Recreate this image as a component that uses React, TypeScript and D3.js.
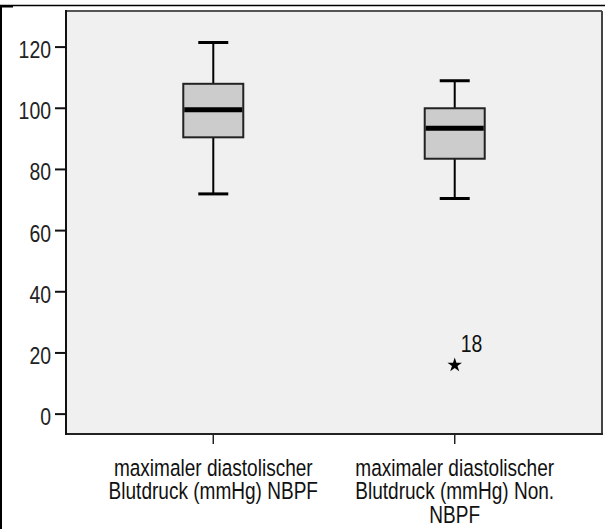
import React from "react";
import * as d3 from "d3";

// box plot values (mmHg)
const categories = ["NBPF", "Non. NBPF"];
const labelLines = [
  ["maximaler diastolischer", "Blutdruck (mmHg) NBPF"],
  ["maximaler diastolischer", "Blutdruck (mmHg) Non.", "NBPF"],
];
const whiskerLow = [72, 70.5];
const q1 = [90.5, 83.5];
const medians = [99.5, 93.5];
const q3 = [108, 100];
const whiskerHigh = [121.5, 109];
const outlierCats = ["Non. NBPF"];
const outlierValues = [16];
const outlierLabels = ["18"];
const yTicks = [0, 20, 40, 60, 80, 100, 120];

const W = 605,
  H = 529;
const left = 66,
  right = 602,
  top = 11,
  bottom = 434;
const FONT = "'Liberation Sans', Arial, sans-serif";
const SX = 0.81; // SPSS text is horizontally condensed

export default function App() {
  const x = d3.scalePoint<string>().domain(categories).range([left, right]).padding(0.61);
  const y = d3.scaleLinear().domain([-6.5, 131.8]).range([bottom, top]);
  const boxW = 60;
  const capW = 30;
  const star = d3.symbol().type(d3.symbolStar).size(65)() as string;

  return (
    <svg
      width={W}
      height={H}
      style={{ position: "absolute", left: 0, top: 0, background: "#fff" }}
      fontFamily={FONT}
    >
      {/* outer frame */}
      <line x1={0} x2={W} y1={5.5} y2={5.5} stroke="#000" strokeWidth={1.5} />
      <rect x={0} y={5} width={13} height={2.5} fill="#000" />
      <line x1={1} x2={1} y1={5} y2={H} stroke="#000" strokeWidth={2} />

      {/* plot area */}
      <rect x={left} y={top} width={right - left} height={bottom - top} fill="#f0f0f0" />
      <line x1={left} x2={right} y1={top} y2={top} stroke="#555" strokeWidth={2} />
      <line x1={right} x2={right} y1={top} y2={bottom} stroke="#444" strokeWidth={2} />
      <line x1={left} x2={right + 1} y1={bottom} y2={bottom} stroke="#222" strokeWidth={2} />
      <line x1={left} x2={left} y1={top - 1} y2={bottom + 1} stroke="#111" strokeWidth={2} />

      {/* y axis */}
      {yTicks.map((t) => (
        <g key={t}>
          <line x1={left - 11} x2={left} y1={y(t)} y2={y(t)} stroke="#111" strokeWidth={2} />
          <text
            transform={`translate(${left - 15},${y(t) + 11}) scale(${SX},1)`}
            textAnchor="end"
            fontSize={24}
            fill="#222"
          >
            {t}
          </text>
        </g>
      ))}

      {/* x axis */}
      {categories.map((c, i) => (
        <g key={c}>
          <line x1={x(c)} x2={x(c)} y1={bottom} y2={bottom + 10} stroke="#222" strokeWidth={1.5} />
          <text
            transform={`translate(${x(c)},0) scale(${SX},1)`}
            textAnchor="middle"
            fontSize={23.5}
            fill="#111"
          >
            {labelLines[i].map((ln, j) => (
              <tspan key={j} x={0} y={476 + j * 23.5}>
                {ln}
              </tspan>
            ))}
          </text>
        </g>
      ))}

      {/* boxes */}
      {categories.map((c, i) => {
        const cx = x(c) as number;
        return (
          <g key={c}>
            <line x1={cx} x2={cx} y1={y(whiskerHigh[i])} y2={y(q3[i])} stroke="#000" strokeWidth={2} />
            <line x1={cx} x2={cx} y1={y(q1[i])} y2={y(whiskerLow[i])} stroke="#000" strokeWidth={2} />
            <line
              x1={cx - capW / 2}
              x2={cx + capW / 2}
              y1={y(whiskerHigh[i])}
              y2={y(whiskerHigh[i])}
              stroke="#000"
              strokeWidth={3}
            />
            <line
              x1={cx - capW / 2}
              x2={cx + capW / 2}
              y1={y(whiskerLow[i])}
              y2={y(whiskerLow[i])}
              stroke="#000"
              strokeWidth={3}
            />
            <rect
              x={cx - boxW / 2}
              y={y(q3[i])}
              width={boxW}
              height={y(q1[i]) - y(q3[i])}
              fill="#cccccc"
              stroke="#222"
              strokeWidth={2}
            />
            <line
              x1={cx - boxW / 2 + 1}
              x2={cx + boxW / 2 - 1}
              y1={y(medians[i])}
              y2={y(medians[i])}
              stroke="#000"
              strokeWidth={5}
            />
          </g>
        );
      })}

      {/* outliers */}
      {outlierValues.map((v, i) => {
        const cx = x(outlierCats[i]) as number;
        return (
          <g key={i}>
            <path d={star} transform={`translate(${cx},${y(v)})`} fill="#000" />
            <text
              transform={`translate(${cx + 6},${y(v) - 13}) scale(${SX},1)`}
              fontSize={24}
              fill="#111"
            >
              {outlierLabels[i]}
            </text>
          </g>
        );
      })}
    </svg>
  );
}
